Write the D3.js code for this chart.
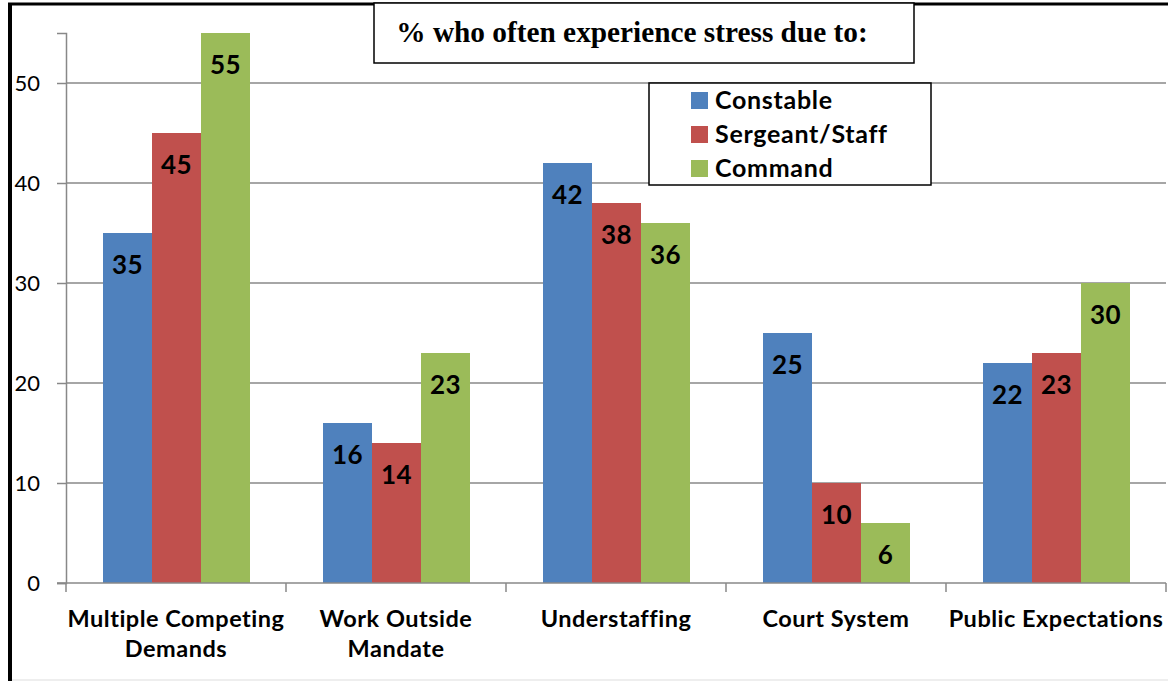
<!DOCTYPE html>
<html>
<head>
<meta charset="utf-8">
<script src="https://cdn.jsdelivr.net/npm/d3@7"></script>
<style>
  body { margin: 0; background: #fff; }
  svg { display: block; }
</style>
</head>
<body>
<script>
// chart data
var categories = [["Multiple Competing", "Demands"], ["Work Outside", "Mandate"], ["Understaffing"], ["Court System"], ["Public Expectations"]];
var seriesNames = ["Constable", "Sergeant/Staff", "Command"];
var constable = [35, 16, 42, 25, 22];
var sergeant = [45, 14, 38, 10, 23];
var command = [55, 23, 36, 6, 30];
var yTicks = [0, 10, 20, 30, 40, 50];
var colors = ["#4F81BD", "#C0504D", "#9BBB59"];
var title = "% who often experience stress due to:";

var width = 1168, height = 681;
var plotLeft = 66, plotRight = 1166, plotTop = 33, plotBottom = 583;

var svg = d3.select("body").append("svg")
    .attr("width", width)
    .attr("height", height);

// frame
svg.append("line").attr("x1", 10).attr("x2", 10).attr("y1", 3).attr("y2", 681)
    .attr("stroke", "#000").attr("stroke-width", 4);
svg.append("line").attr("x1", 8).attr("x2", 1168).attr("y1", 4).attr("y2", 4)
    .attr("stroke", "#000").attr("stroke-width", 3);
svg.append("line").attr("x1", 12).attr("x2", 1168).attr("y1", 680).attr("y2", 680)
    .attr("stroke", "#ddd").attr("stroke-width", 1);

var keys = categories.map(function(d) { return d.join(" "); });
var x = d3.scaleBand().domain(keys).range([plotLeft, plotRight]).paddingInner(0).paddingOuter(0);
var inner = d3.scaleBand().domain(seriesNames).range([37, x.bandwidth() - 36]).padding(0);
var y = d3.scaleLinear().domain([0, 55]).range([plotBottom, plotTop]);

// gridlines
svg.append("g").selectAll("line").data(yTicks.slice(1)).enter().append("line")
    .attr("x1", plotLeft).attr("x2", plotRight)
    .attr("y1", function(d) { return y(d); }).attr("y2", function(d) { return y(d); })
    .attr("stroke", "#888").attr("stroke-width", 1.5);

// y axis
var yAxis = svg.append("g")
    .attr("transform", "translate(" + plotLeft + ",0)")
    .call(d3.axisLeft(y).tickValues(yTicks).tickSize(9).tickPadding(17));
yAxis.select(".domain").attr("stroke", "#888").attr("stroke-width", 1.5);
yAxis.selectAll(".tick line").attr("stroke", "#888").attr("stroke-width", 1.5);
yAxis.selectAll("text").attr("font-family", "Lato").attr("font-size", 22).attr("fill", "#000");

var series = [constable, sergeant, command];

// bars
var groups = svg.append("g").selectAll("g").data(keys).enter().append("g")
    .attr("transform", function(d) { return "translate(" + x(d) + ",0)"; });

function rows(d, i) {
  return seriesNames.map(function(s, j) { return { s: s, j: j, v: series[j][i] }; });
}

groups.selectAll("rect").data(rows).enter().append("rect")
    .attr("x", function(d) { return inner(d.s); })
    .attr("width", inner.bandwidth())
    .attr("y", function(d) { return y(d.v); })
    .attr("height", function(d) { return y(0) - y(d.v); })
    .attr("fill", function(d) { return colors[d.j]; });

groups.selectAll("text.val").data(rows).enter().append("text")
    .attr("class", "val")
    .attr("x", function(d) { return inner(d.s) + inner.bandwidth() / 2; })
    .attr("y", function(d) { return y(d.v) + 41; })
    .attr("text-anchor", "middle")
    .attr("font-family", "Lato").attr("font-weight", "bold").attr("font-size", 26)
    .attr("letter-spacing", 0.4)
    .attr("fill", "#000")
    .text(function(d) { return d.v; });

// x axis
var xAxis = svg.append("g")
    .attr("transform", "translate(0," + plotBottom + ")");
xAxis.append("line").attr("x1", plotLeft - 9).attr("x2", plotRight).attr("y1", 0).attr("y2", 0)
    .attr("stroke", "#888").attr("stroke-width", 1.5);
xAxis.selectAll("line.tk").data(keys.concat(["end"])).enter().append("line")
    .attr("class", "tk")
    .attr("x1", function(d) { return d === "end" ? plotRight : x(d); })
    .attr("x2", function(d) { return d === "end" ? plotRight : x(d); })
    .attr("y1", 0).attr("y2", 9)
    .attr("stroke", "#888").attr("stroke-width", 1.5);

var labels = xAxis.selectAll("text").data(categories).enter().append("text")
    .attr("x", function(d, i) { return x(keys[i]) + x.bandwidth() / 2; })
    .attr("y", 44)
    .attr("text-anchor", "middle")
    .attr("font-family", "Lato").attr("font-weight", "bold").attr("font-size", 23.5)
    .attr("letter-spacing", 0.5)
    .attr("fill", "#000");
labels.selectAll("tspan").data(function(d) { return d; }).enter().append("tspan")
    .attr("x", function() { return this.parentNode.getAttribute("x"); })
    .attr("dy", function(d, i) { return i === 0 ? 0 : 30; })
    .text(function(d) { return d; });

// title box
svg.append("rect").attr("x", 374).attr("y", 3).attr("width", 540).attr("height", 60)
    .attr("fill", "#fff").attr("stroke", "#000").attr("stroke-width", 1.5);
svg.append("text").attr("x", 632).attr("y", 42)
    .attr("text-anchor", "middle")
    .attr("font-family", "Liberation Serif").attr("font-weight", "bold").attr("font-size", 29.3)
    .text(title);

// legend
var legend = svg.append("g");
legend.append("rect").attr("x", 649).attr("y", 83).attr("width", 282).attr("height", 102)
    .attr("fill", "#fff").attr("stroke", "#000").attr("stroke-width", 1.5);
var item = legend.selectAll("g").data(seriesNames).enter().append("g")
    .attr("transform", function(d, i) { return "translate(691," + (92 + i * 34) + ")"; });
item.append("rect").attr("width", 17).attr("height", 17)
    .attr("fill", function(d, i) { return colors[i]; });
item.append("text").attr("x", 24).attr("y", 17)
    .attr("font-family", "Lato").attr("font-weight", "bold").attr("font-size", 25)
    .attr("letter-spacing", 0.7)
    .text(function(d) { return d; });
</script>
</body>
</html>
